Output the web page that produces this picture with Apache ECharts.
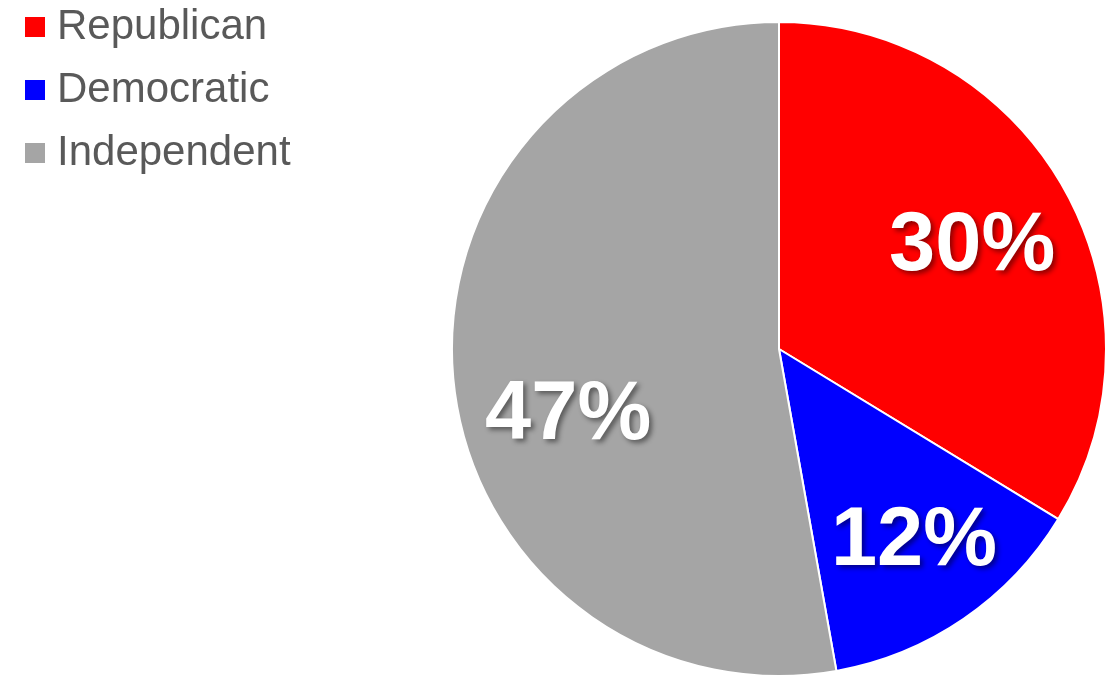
<!DOCTYPE html>
<html>
<head>
<meta charset="utf-8">
<script src="https://cdn.jsdelivr.net/npm/echarts@6/dist/echarts.min.js"></script>
<style>
html,body{margin:0;padding:0;background:#fff;}
#chart{width:1110px;height:677px;}
</style>
</head>
<body>
<div id="chart"></div>
<script>
const categories = ['Republican', 'Democratic', 'Independent'];
const values = [30, 12, 47];
const colors = ['#FF0000', '#0000FF', '#A5A5A5'];
// label nudges (pixels) from the default inside position
const labelShift = [[48, -20], [41, 56], [-45, 52]];

const chart = echarts.init(document.getElementById('chart'));
chart.setOption({
  animation: false,
  legend: {
    orient: 'vertical',
    left: 18,
    top: 1,
    itemWidth: 22,
    itemHeight: 22,
    itemGap: 21,
    icon: 'rect',
    data: categories,
    textStyle: {
      fontFamily: 'Liberation Sans, Arial, sans-serif',
      fontSize: 42,
      lineHeight: 42,
      color: '#595959',
      padding: [0, 0, 0, 6]
    }
  },
  series: [{
    type: 'pie',
    center: [779, 349],
    radius: [0, 327],
    startAngle: 90,
    clockwise: true,
    data: categories.map((c, i) => ({ name: c, value: values[i], itemStyle: { color: colors[i] } })),
    itemStyle: { borderColor: '#fff', borderWidth: 2 },
    label: {
      show: true,
      position: 'inside',
      formatter: p => p.value + '%',
      fontFamily: 'Liberation Sans, Arial, sans-serif',
      fontWeight: 'bold',
      fontSize: 83,
      color: '#fff',
      textShadowColor: 'rgba(0,0,0,0.45)',
      textShadowBlur: 5,
      textShadowOffsetX: 3,
      textShadowOffsetY: 3
    },
    labelLine: { show: false },
    labelLayout: function (params) {
      const s = labelShift[params.dataIndex];
      return { dx: s[0], dy: s[1] };
    }
  }]
});
</script>
</body>
</html>
